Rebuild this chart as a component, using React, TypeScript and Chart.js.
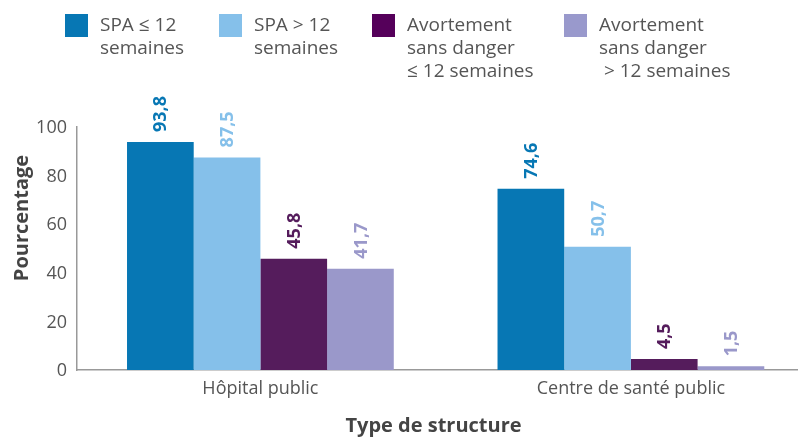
import React, { useEffect, useRef } from 'react';
import { Chart, registerables } from 'chart.js';

Chart.register(...registerables);

const categories = ['Hôpital public', 'Centre de santé public'];
const seriesNames = [
  ['SPA ≤ 12', 'semaines'],
  ['SPA > 12', 'semaines'],
  ['Avortement', 'sans danger', '≤ 12 semaines'],
  ['Avortement', 'sans danger', '\u00a0> 12 semaines'],
];
const spaLe12 = [93.8, 74.6];
const spaGt12 = [87.5, 50.7];
const safeLe12 = [45.8, 4.5];
const safeGt12 = [41.7, 1.5];
const seriesValues = [spaLe12, spaGt12, safeLe12, safeGt12];
const colors = ['#0777B4', '#85C0EA', '#551C5C', '#9A98CA'];
const legendColors = ['#0777B4', '#85C0EA', '#55005A', '#9999CC'];
const yTitle = 'Pourcentage';
const xTitle = 'Type de structure';

const FONT = "'Open Sans', 'Noto Sans', sans-serif";
const legendX = [65, 219, 372, 564];

const valueLabels = {
  id: 'valueLabels',
  afterDatasetsDraw(chart: any) {
    const ctx = chart.ctx;
    chart.data.datasets.forEach((ds: any, di: number) => {
      const meta = chart.getDatasetMeta(di);
      meta.data.forEach((bar: any, i: number) => {
        const v = ds.data[i].y;
        ctx.save();
        ctx.translate(bar.x, bar.y - 10);
        ctx.rotate(-Math.PI / 2);
        ctx.font = `bold 18px ${FONT}`;
        ctx.fillStyle = colors[di];
        ctx.textAlign = 'left';
        ctx.textBaseline = 'middle';
        ctx.fillText(v.toFixed(1).replace('.', ','), 0, 1);
        ctx.restore();
      });
    });
  },
};

const axisTitles = {
  id: 'axisTitles',
  afterDraw(chart: any) {
    const ctx = chart.ctx;
    const area = chart.chartArea;
    ctx.save();
    ctx.fillStyle = '#444';
    ctx.font = `bold 20px ${FONT}`;
    ctx.textAlign = 'center';
    ctx.textBaseline = 'alphabetic';
    ctx.fillText(xTitle, (area.left + area.right) / 2 - 4, 432);
    ctx.translate(28, 218);
    ctx.rotate(-Math.PI / 2);
    ctx.fillText(yTitle, 0, 0);
    ctx.restore();
  },
};

export default function App() {
  const ref = useRef<HTMLCanvasElement>(null);
  useEffect(() => {
    document.body.style.margin = '0';
    const chart = new Chart(ref.current!, {
      type: 'bar',
      data: {
        datasets: seriesValues.map((vals, di) => ({
          label: seriesNames[di].join(' '),
          data: vals.map((v, i) => ({ x: i, y: v })),
          backgroundColor: colors[di],
          borderWidth: 0,
          categoryPercentage: 0.72,
          barPercentage: 1,
        })),
      },
      options: {
        responsive: false,
        animation: false,
        layout: { padding: { top: 127, left: 0, right: 0, bottom: 0 } },
        plugins: { legend: { display: false }, tooltip: { enabled: false } },
        scales: {
          x: {
            type: 'linear',
            offset: false,
            bounds: 'data',
            min: -0.495,
            max: 1.451,
            grid: { display: false, drawTicks: false, offset: false },
            border: { display: true, color: '#999', width: 1.5 },
            afterBuildTicks: (s: any) => {
              s.ticks = categories.map((_, i) => ({ value: i }));
            },
            afterFit: (s: any) => {
              s.height = 68;
            },
            ticks: {
              autoSkip: false,
              maxRotation: 0,
              padding: 8,
              color: '#555',
              font: { family: FONT, size: 18 },
              callback: (v: any) => categories[v] ?? '',
            },
          },
          y: {
            min: 0,
            max: 100,
            grid: { display: false, drawTicks: false },
            border: { display: true, color: '#999', width: 1.5 },
            afterFit: (s: any) => {
              s.width = 77;
            },
            ticks: {
              stepSize: 20,
              padding: 10,
              labelOffset: 1,
              color: '#555',
              font: { family: FONT, size: 18 },
            },
          },
        },
      },
      plugins: [valueLabels, axisTitles],
    } as any);
    return () => chart.destroy();
  }, []);

  return (
    <div style={{ position: 'absolute', left: 0, top: 0, width: 798, height: 438, background: '#fff' }}>
      <canvas ref={ref} width={798} height={438} style={{ width: 798, height: 438, display: 'block' }} />
      {seriesNames.map((lines, i) => (
        <div key={i}>
          <div
            style={{
              position: 'absolute',
              left: legendX[i],
              top: 14,
              width: 23,
              height: 23,
              background: legendColors[i],
            }}
          />
          <div
            style={{
              position: 'absolute',
              left: legendX[i] + 35,
              top: 13,
              fontFamily: FONT,
              fontSize: 19,
              lineHeight: '23px',
              color: '#555',
              whiteSpace: 'pre',
            }}
          >
            {lines.map((l, j) => (
              <div key={j}>{l}</div>
            ))}
          </div>
        </div>
      ))}
    </div>
  );
}
